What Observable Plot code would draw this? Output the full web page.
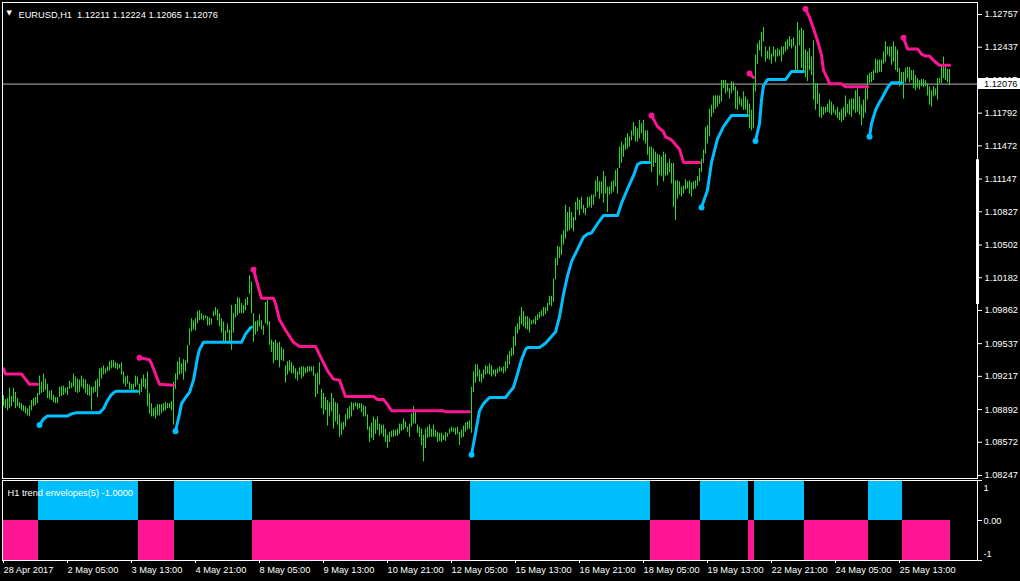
<!DOCTYPE html>
<html><head><meta charset="utf-8">
<script src="https://cdn.jsdelivr.net/npm/d3@7"></script>
<script src="https://cdn.jsdelivr.net/npm/@observablehq/plot@0.6"></script>
<style>
html,body{margin:0;padding:0;background:#000;}
#chart{position:relative;width:1020px;height:581px;background:#000;overflow:hidden;}
#chart svg{position:absolute;left:0;}
</style></head><body><div id="chart"></div>
<script>
// ---- data ----
const symbolTitle = "EURUSD,H1\u00a0 1.12211 1.12224 1.12065 1.12076";
const indicatorTitle = "H1 trend envelopes(5) -1.0000";
const currentPrice = 1.12076;

// hourly bar highs / lows, bar 0 = 28 Apr 2017 21:00
const highs = [
1.0903,1.0899,1.0900,1.0910,1.0902,1.0910,1.0906,1.0900,1.0896,1.0895,
1.0893,1.0892,1.0890,1.0893,1.0898,1.0900,1.0901,1.0905,1.0922,1.0916,
1.0924,1.0919,1.0914,1.0907,1.0908,1.0903,1.0901,1.0901,1.0911,1.0912,
1.0912,1.0910,1.0911,1.0917,1.0915,1.0924,1.0921,1.0919,1.0918,1.0922,
1.0919,1.0918,1.0914,1.0913,1.0911,1.0911,1.0917,1.0919,1.0929,1.0930,
1.0932,1.0929,1.0931,1.0936,1.0937,1.0937,1.0935,1.0934,1.0933,1.0935,
1.0926,1.0921,1.0922,1.0916,1.0914,1.0914,1.0922,1.0921,1.0914,1.0919,
1.0923,1.0919,1.0926,1.0905,1.0895,1.0890,1.0891,1.0894,1.0894,1.0894,
1.0895,1.0896,1.0895,1.0895,1.0897,1.0916,1.0924,1.0936,1.0940,1.0934,
1.0938,1.0937,1.0952,1.0968,1.0978,1.0976,1.0978,1.0985,1.0986,1.0983,
1.0981,1.0981,1.0980,1.0979,1.0978,1.0985,1.0989,1.0987,1.0983,1.0978,
1.0975,1.0966,1.0973,1.0967,1.0991,1.0983,1.0992,1.0999,1.0998,1.0993,
1.0991,1.0997,1.0999,1.1020,1.1014,1.0983,1.0975,1.0976,1.0982,1.0976,
1.0971,1.0994,1.0996,1.0975,1.0957,1.0955,1.0957,1.0954,1.0955,1.0950,
1.0948,1.0932,1.0936,1.0937,1.0935,1.0932,1.0929,1.0926,1.0930,1.0931,
1.0931,1.0930,1.0931,1.0931,1.0931,1.0931,1.0924,1.0925,1.0935,1.0909,
1.0905,1.0901,1.0898,1.0896,1.0905,1.0900,1.0896,1.0895,1.0884,1.0876,
1.0877,1.0884,1.0890,1.0892,1.0896,1.0895,1.0896,1.0895,1.0895,1.0895,
1.0893,1.0892,1.0884,1.0872,1.0876,1.0882,1.0879,1.0882,1.0875,1.0874,
1.0874,1.0870,1.0864,1.0867,1.0868,1.0869,1.0869,1.0870,1.0875,1.0875,
1.0880,1.0877,1.0872,1.0875,1.0885,1.0892,1.0888,1.0874,1.0872,1.0870,
1.0864,1.0870,1.0872,1.0874,1.0870,1.0874,1.0869,1.0867,1.0866,1.0866,
1.0864,1.0867,1.0866,1.0870,1.0872,1.0871,1.0871,1.0872,1.0867,1.0869,
1.0873,1.0876,1.0877,1.0878,1.0911,1.0926,1.0933,1.0933,1.0928,1.0924,
1.0928,1.0932,1.0931,1.0934,1.0932,1.0928,1.0928,1.0929,1.0931,1.0930,
1.0931,1.0936,1.0942,1.0946,1.0949,1.0960,1.0970,1.0973,1.0980,1.0989,
1.0985,1.0980,1.0980,1.0978,1.0976,1.0977,1.0980,1.0982,1.0984,1.0986,
1.0989,1.0989,1.0993,1.1000,1.1000,1.1017,1.1037,1.1049,1.1048,1.1060,
1.1064,1.1089,1.1082,1.1087,1.1082,1.1077,1.1092,1.1096,1.1094,1.1097,
1.1089,1.1086,1.1097,1.1097,1.1099,1.1099,1.1113,1.1117,1.1112,1.1112,
1.1122,1.1117,1.1107,1.1107,1.1112,1.1113,1.1123,1.1125,1.1146,1.1151,
1.1148,1.1155,1.1159,1.1156,1.1162,1.1170,1.1166,1.1164,1.1172,1.1169,
1.1172,1.1162,1.1162,1.1146,1.1146,1.1144,1.1141,1.1139,1.1138,1.1136,
1.1141,1.1139,1.1130,1.1134,1.1130,1.1130,1.1113,1.1113,1.1112,1.1107,
1.1108,1.1114,1.1112,1.1113,1.1111,1.1112,1.1113,1.1117,1.1125,1.1134,
1.1143,1.1165,1.1167,1.1183,1.1187,1.1196,1.1196,1.1196,1.1196,1.1211,
1.1211,1.1211,1.1208,1.1203,1.1210,1.1209,1.1205,1.1201,1.1195,1.1193,
1.1200,1.1195,1.1192,1.1188,1.1182,1.1208,1.1236,1.1247,1.1250,1.1258,
1.1263,1.1244,1.1240,1.1244,1.1237,1.1244,1.1241,1.1242,1.1241,1.1244,
1.1244,1.1249,1.1251,1.1254,1.1251,1.1253,1.1245,1.1268,1.1260,1.1262,
1.1260,1.1241,1.1239,1.1242,1.1234,1.1250,1.1208,1.1208,1.1198,1.1185,
1.1185,1.1185,1.1188,1.1192,1.1190,1.1187,1.1182,1.1185,1.1180,1.1183,
1.1185,1.1196,1.1188,1.1192,1.1193,1.1193,1.1201,1.1203,1.1195,1.1187,
1.1192,1.1203,1.1216,1.1218,1.1219,1.1221,1.1232,1.1231,1.1231,1.1231,
1.1239,1.1249,1.1244,1.1244,1.1244,1.1249,1.1244,1.1241,1.1223,1.1219,
1.1219,1.1223,1.1224,1.1224,1.1221,1.1221,1.1216,1.1213,1.1211,1.1212,
1.1212,1.1211,1.1208,1.1205,1.1201,1.1205,1.1203,1.1213,1.1213,1.1226,
1.1234,1.1224,1.1222,1.1222
];
const lows = [
1.0892,1.0890,1.0888,1.0890,1.0892,1.0896,1.0890,1.0892,1.0890,1.0888,
1.0887,1.0885,1.0883,1.0882,1.0888,1.0892,1.0893,1.0895,1.0903,1.0905,
1.0906,1.0908,1.0900,1.0899,1.0898,1.0896,1.0895,1.0895,1.0901,1.0902,
1.0903,1.0905,1.0903,1.0909,1.0910,1.0911,1.0906,1.0905,1.0906,1.0911,
1.0909,1.0905,1.0903,1.0902,1.0888,1.0905,1.0906,1.0901,1.0911,1.0919,
1.0923,1.0924,1.0926,1.0927,1.0929,1.0930,1.0929,1.0928,1.0929,1.0923,
1.0914,1.0911,1.0914,1.0909,1.0907,1.0908,1.0911,1.0913,1.0903,1.0906,
1.0911,1.0909,1.0892,1.0885,1.0882,1.0882,1.0880,1.0883,1.0883,1.0885,
1.0887,1.0888,1.0890,1.0890,1.0888,1.0874,1.0909,1.0918,1.0923,1.0924,
1.0918,1.0926,1.0934,1.0952,1.0965,1.0967,1.0966,1.0973,1.0976,1.0977,
1.0976,1.0978,1.0971,1.0971,1.0972,1.0980,1.0981,1.0976,1.0970,1.0964,
1.0955,1.0955,1.0964,1.0955,1.0947,1.0964,1.0979,1.0981,1.0983,1.0983,
1.0983,1.0986,1.0991,1.1002,1.0983,1.0955,1.0962,1.0965,1.0970,1.0967,
1.0962,1.0973,1.0971,1.0952,1.0945,1.0934,1.0937,1.0937,1.0930,1.0937,
1.0936,1.0915,1.0923,1.0926,1.0924,1.0924,1.0919,1.0917,1.0923,1.0919,
1.0921,1.0924,1.0925,1.0926,1.0926,1.0922,1.0901,1.0904,1.0913,1.0890,
1.0884,1.0888,1.0873,1.0882,1.0887,1.0870,1.0877,1.0874,1.0862,1.0864,
1.0869,1.0872,1.0879,1.0880,1.0882,1.0888,1.0892,1.0889,1.0890,1.0886,
1.0882,1.0882,1.0869,1.0857,1.0861,1.0859,1.0865,1.0869,1.0863,1.0865,
1.0862,1.0857,1.0851,1.0857,1.0862,1.0862,1.0863,1.0863,1.0865,1.0868,
1.0869,1.0871,1.0867,1.0862,1.0872,1.0875,1.0875,1.0866,1.0862,1.0854,
1.0838,1.0851,1.0861,1.0862,1.0862,1.0862,1.0862,1.0857,1.0858,1.0857,
1.0859,1.0858,1.0862,1.0865,1.0867,1.0867,1.0864,1.0865,1.0854,1.0861,
1.0862,1.0867,1.0869,1.0870,1.0866,1.0906,1.0915,1.0921,1.0916,1.0915,
1.0919,1.0923,1.0924,1.0923,1.0921,1.0923,1.0921,1.0924,1.0926,1.0926,
1.0924,1.0926,1.0929,1.0933,1.0941,1.0942,1.0951,1.0963,1.0967,1.0972,
1.0970,1.0968,1.0967,1.0964,1.0972,1.0973,1.0972,1.0976,1.0978,1.0980,
1.0980,1.0982,1.0985,1.0991,1.0990,1.0994,1.1016,1.1030,1.1037,1.1040,
1.1050,1.1056,1.1063,1.1064,1.1066,1.1063,1.1074,1.1084,1.1079,1.1085,
1.1081,1.1079,1.1086,1.1087,1.1086,1.1089,1.1097,1.1102,1.1095,1.1100,
1.1091,1.1100,1.1082,1.1099,1.1100,1.1102,1.1107,1.1100,1.1125,1.1130,
1.1136,1.1143,1.1144,1.1146,1.1152,1.1157,1.1151,1.1151,1.1154,1.1159,
1.1152,1.1149,1.1138,1.1130,1.1121,1.1126,1.1130,1.1108,1.1118,1.1117,
1.1112,1.1117,1.1118,1.1121,1.1110,1.1087,1.1074,1.1095,1.1099,1.1097,
1.1100,1.1104,1.1105,1.1100,1.1097,1.1104,1.1105,1.1108,1.1112,1.1121,
1.1130,1.1139,1.1149,1.1156,1.1175,1.1179,1.1183,1.1185,1.1188,1.1190,
1.1203,1.1198,1.1200,1.1193,1.1198,1.1201,1.1183,1.1182,1.1187,1.1185,
1.1182,1.1182,1.1177,1.1164,1.1162,1.1164,1.1200,1.1227,1.1240,1.1234,
1.1249,1.1229,1.1232,1.1231,1.1227,1.1234,1.1229,1.1234,1.1235,1.1229,
1.1236,1.1239,1.1241,1.1244,1.1242,1.1244,1.1221,1.1221,1.1245,1.1223,
1.1218,1.1214,1.1210,1.1221,1.1216,1.1192,1.1182,1.1188,1.1175,1.1174,
1.1177,1.1179,1.1180,1.1179,1.1177,1.1179,1.1177,1.1174,1.1172,1.1170,
1.1172,1.1175,1.1179,1.1177,1.1175,1.1182,1.1179,1.1180,1.1177,1.1167,
1.1174,1.1179,1.1192,1.1208,1.1209,1.1211,1.1218,1.1218,1.1219,1.1219,
1.1227,1.1229,1.1236,1.1234,1.1226,1.1229,1.1221,1.1219,1.1205,1.1206,
1.1193,1.1209,1.1213,1.1209,1.1211,1.1203,1.1201,1.1204,1.1202,1.1205,
1.1204,1.1205,1.1196,1.1187,1.1185,1.1195,1.1196,1.1192,1.1208,1.1208,
1.1213,1.1211,1.1209,1.1206
];

// upper envelope (down trend) segments: [bar, price] vertices
const upperSegments = [
  [[0,1.0929],[1,1.0924],[9,1.0924],[11,1.0919],[13,1.0914],[17,1.0914]],
  [[68,1.0940],[73,1.0938],[74,1.0934],[76,1.0924],[78,1.0914],[85,1.0913]],
  [[125,1.1026],[127,1.1012],[129,1.0998],[135,1.0998],[136,1.0993],[138,1.0977],[141,1.0967],[145,1.0955],[148,1.0951],[156,1.0951],[158,1.0943],[162,1.0927],[165,1.0919],[168,1.0918],[171,1.0902],[185,1.0902],[187,1.0899],[190,1.0899],[192,1.0894],[194,1.0888],[220,1.0888],[221,1.0887],[233,1.0887]],
  [[324,1.1177],[327,1.1166],[330,1.1161],[331,1.1156],[334,1.1153],[338,1.1144],[340,1.1131],[348,1.1131]],
  [[373,1.1218],[375,1.1214]],
  [[401,1.1281],[403,1.1273],[405,1.1262],[407,1.1250],[409,1.1236],[410,1.1221],[412,1.1213],[413,1.1208],[419,1.1208],[421,1.1205],[432,1.1205]],
  [[450,1.1253],[452,1.1242],[457,1.1242],[459,1.1237],[461,1.1235],[463,1.1235],[466,1.1229],[468,1.1226],[473,1.1226]]
];
const upperHasStartDot = [false, true, true, true, true, true, true];

// lower envelope (up trend) segments
const lowerSegments = [
  [[18,1.0874],[20,1.0880],[22,1.0883],[32,1.0883],[34,1.0885],[36,1.0886],[48,1.0886],[50,1.0890],[52,1.0898],[54,1.0904],[56,1.0907],[67,1.0907]],
  [[86,1.0868],[88,1.0885],[89,1.0895],[91,1.0901],[93,1.0906],[95,1.0918],[97,1.0940],[98,1.0948],[100,1.0955],[119,1.0955],[121,1.0963],[123,1.0968],[124,1.0970]],
  [[234,1.0845],[236,1.0866],[238,1.0888],[240,1.0895],[243,1.0901],[251,1.0901],[253,1.0906],[255,1.0911],[257,1.0924],[259,1.0938],[261,1.0948],[262,1.0950],[268,1.0950],[271,1.0954],[276,1.0965],[278,1.0980],[280,1.1002],[282,1.1020],[284,1.1034],[287,1.1046],[290,1.1058],[292,1.1061],[294,1.1062],[297,1.1071],[300,1.1079],[307,1.1079],[309,1.1091],[312,1.1105],[315,1.1118],[317,1.1129],[319,1.1131],[323,1.1131]],
  [[349,1.1087],[352,1.1104],[354,1.1131],[357,1.1154],[360,1.1166],[364,1.1177],[372,1.1177]],
  [[376,1.1152],[378,1.1169],[379,1.1192],[380,1.1206],[382,1.1212],[391,1.1212],[394,1.1220],[400,1.1220]],
  [[433,1.1156],[434,1.1169],[436,1.1182],[438,1.1190],[439,1.1193],[442,1.1204],[444,1.1209],[449,1.1209]]
];

// trend runs for the lower panel: [firstBar, lastBar, direction]
const trendRuns = [
  [0,17,-1],[18,67,1],[68,85,-1],[86,124,1],[125,233,-1],[234,323,1],[324,348,-1],
  [349,372,1],[373,375,-1],[376,400,1],[401,432,-1],[433,449,1],[450,473,-1]
];

const priceTicks = [1.12757,1.12437,1.12117,1.11792,1.11472,1.11147,1.10827,1.10502,1.10182,1.09862,1.09537,1.09217,1.08892,1.08572,1.08247];
const timeTickBars = [0,32,64,96,128,160,192,224,256,288,320,352,384,416,448];
const timeTickLabels = ["28 Apr 2017","2 May 05:00","3 May 13:00","4 May 21:00","8 May 05:00","9 May 13:00","10 May 21:00","12 May 05:00","15 May 13:00","16 May 21:00","18 May 05:00","19 May 13:00","22 May 21:00","24 May 05:00","25 May 13:00"];
const lowerLevels = [1, 0, -1];
const lowerLevelLabels = ["1", "0.00", "-1"];
const scrollMarker = [1.09920, 1.11336];

// ---- drawing ----
const GREEN = "#22dd22", PINK = "#ff1493", BLUE = "#00bfff";
const FONT = "'Liberation Sans', Arial, sans-serif";
const xDomain = [-0.5, 487];

const bars = highs.map((h, i) => ({i, high: h, low: lows[i]}));
const upperPts = upperSegments.flatMap((s, k) => s.map(([i, v]) => ({i, v, k})));
const lowerPts = lowerSegments.flatMap((s, k) => s.map(([i, v]) => ({i, v, k})));
const upperStarts = upperSegments.filter((s, k) => upperHasStartDot[k]).map(s => ({i: s[0][0], v: s[0][1]}));
const lowerStarts = lowerSegments.map(s => ({i: s[0][0], v: s[0][1]}));
const trendData = trendRuns.map(([a, b, d]) => ({x1: a - 0.5, x2: b + 0.5, y1: 0, y2: d, dir: d}));

function currentPriceBox(index, scales, values, dims) {
  const ns = "http://www.w3.org/2000/svg";
  const g = document.createElementNS(ns, "g");
  const y = Math.round(scales.y(currentPrice));
  const x0 = dims.width - dims.marginRight + 1;
  const r = document.createElementNS(ns, "rect");
  r.setAttribute("x", x0); r.setAttribute("y", y - 6);
  r.setAttribute("width", dims.width - x0); r.setAttribute("height", 11);
  r.setAttribute("fill", "white");
  g.appendChild(r);
  const t = document.createElementNS(ns, "text");
  t.setAttribute("x", x0 + 6); t.setAttribute("y", y); t.setAttribute("dy", "0.32em");
  t.setAttribute("text-anchor", "start");
  t.setAttribute("fill", "black"); t.textContent = currentPrice.toFixed(5);
  g.appendChild(t);
  return g;
}

const main = Plot.plot({
  width: 1020, height: 479,
  marginLeft: 2, marginRight: 43, marginTop: 2, marginBottom: 1,
  style: {background: "transparent", color: "white", fontFamily: FONT, fontSize: "9.25px"},
  x: {domain: xDomain, axis: null},
  y: {domain: [1.082176, 1.128744]},
  marks: [
    Plot.ruleY([currentPrice], {stroke: "#b4b4b4"}),
    Plot.ruleX(bars, {x: "i", y1: "low", y2: "high", stroke: GREEN, strokeWidth: 1}),
    Plot.line(upperPts, {x: "i", y: "v", z: "k", stroke: PINK, strokeWidth: 3}),
    Plot.line(lowerPts, {x: "i", y: "v", z: "k", stroke: BLUE, strokeWidth: 3}),
    Plot.dot(upperStarts, {x: "i", y: "v", r: 3, fill: PINK, stroke: null}),
    Plot.dot(lowerStarts, {x: "i", y: "v", r: 3, fill: BLUE, stroke: null}),
    Plot.frame({stroke: "white"}),
    Plot.axisY({anchor: "right", ticks: priceTicks, tickFormat: d => d.toFixed(5), tickSize: 4, tickPadding: 3, label: null}),
    Plot.ruleX([xDomain[1]], {y1: scrollMarker[0], y2: scrollMarker[1], stroke: "white", strokeWidth: 3}),
    currentPriceBox,
    Plot.text(["\u25BC"], {frameAnchor: "top-left", dx: 4, dy: 8, fill: "white", fontSize: 7, textAnchor: "start", fontFamily: "DejaVu Sans"}),
    Plot.text([symbolTitle], {frameAnchor: "top-left", dx: 16, dy: 8.5, fill: "white", textAnchor: "start"})
  ]
});
main.style.top = "0px";

const lower = Plot.plot({
  width: 1020, height: 102,
  marginLeft: 2, marginRight: 43, marginTop: 1, marginBottom: 21,
  style: {background: "transparent", color: "white", fontFamily: FONT, fontSize: "9.25px"},
  x: {domain: xDomain},
  y: {domain: [-1, 1]},
  marks: [
    Plot.rect(trendData.filter(d => d.dir > 0), {x1: "x1", x2: "x2", y1: "y1", y2: "y2", fill: BLUE}),
    Plot.rect(trendData.filter(d => d.dir < 0), {x1: "x1", x2: "x2", y1: "y1", y2: "y2", fill: PINK}),
    Plot.frame({stroke: "white"}),
    Plot.text([indicatorTitle], {frameAnchor: "top-left", dx: 5, dy: 8.5, fill: "white", textAnchor: "start"}),
    Plot.axisY({anchor: "right", ticks: lowerLevels, tickFormat: () => "", tickSize: 4, label: null}),
    Plot.text([{v: lowerLevels[0], t: lowerLevelLabels[0]}], {y: "v", text: "t", frameAnchor: "right", dx: 6, dy: 8, textAnchor: "start", fill: "white"}),
    Plot.text([{v: lowerLevels[1], t: lowerLevelLabels[1]}], {y: "v", text: "t", frameAnchor: "right", dx: 6, dy: 0.5, textAnchor: "start", fill: "white"}),
    Plot.text([{v: lowerLevels[2], t: lowerLevelLabels[2]}], {y: "v", text: "t", frameAnchor: "right", dx: 6, dy: -6, textAnchor: "start", fill: "white"}),
    Plot.axisX({ticks: timeTickBars, tickFormat: d => timeTickLabels[timeTickBars.indexOf(d)], tickSize: 3, tickPadding: 3, textAnchor: "start", label: null})
  ]
});
lower.style.top = "479px";

const chart = document.getElementById("chart");
chart.appendChild(main);
chart.appendChild(lower);
</script>
</body></html>
